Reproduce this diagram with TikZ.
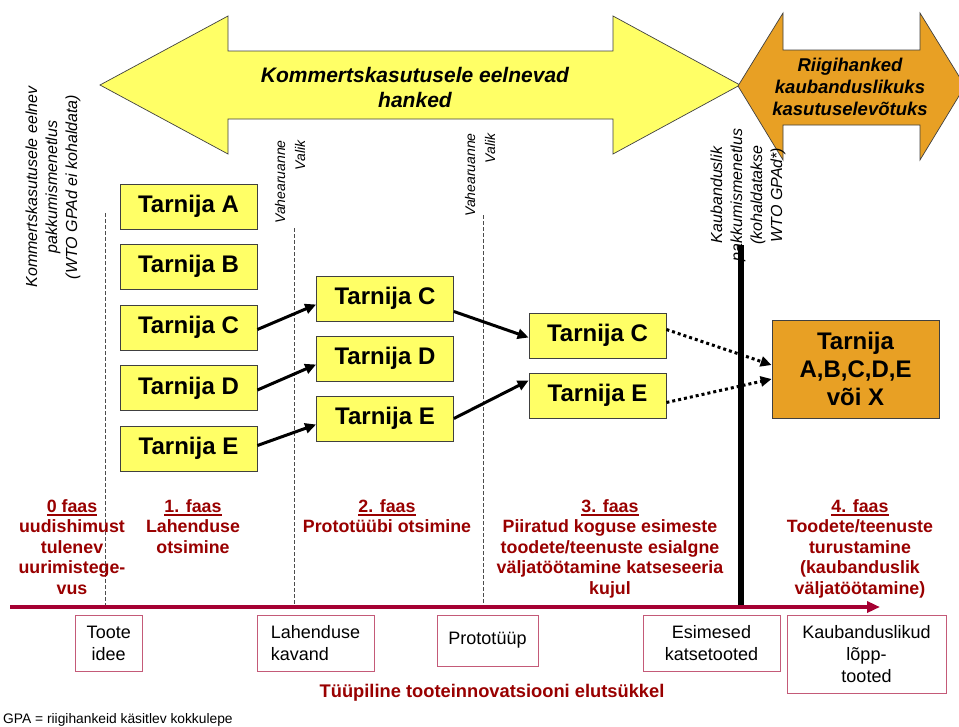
\documentclass[tikz,border=0pt]{standalone}
\usepackage{fontspec}
\setmainfont{Liberation Sans}
\usetikzlibrary{arrows.meta}
\definecolor{yel}{RGB}{255,255,102}
\definecolor{org}{RGB}{232,160,36}
\definecolor{phred}{RGB}{153,0,0}
\definecolor{tline}{RGB}{165,0,50}
\definecolor{bbox}{RGB}{196,90,120}
\newcommand\fs[2]{\fontsize{#1}{#2}\selectfont}
\newcommand\phaseul[1]{\leavevmode\setbox0=\hbox{#1}\rlap{\vrule width \wd0 height -2pt depth 4pt}\box0}
\begin{document}
\begin{tikzpicture}[x=1pt,y=-1pt,
  tbox/.style={draw=black!75, line width=0.8pt, fill=yel, minimum width=137pt, minimum height=45pt, inner sep=0pt, font=\bfseries\fs{24}{28}},
  vtext/.style={rotate=90, font=\itshape\fs{16}{20}, align=center, inner sep=0pt},
  vsmall/.style={rotate=90, font=\itshape\fs{14}{20}, align=right, inner sep=0pt, anchor=east},
  phase/.style={text=phred, font=\bfseries\fs{17.8}{20.5}, align=center, inner sep=0pt, anchor=north},
  lbox/.style={draw=bbox, line width=1pt, fill=white, inner sep=0pt, font=\fs{18}{22}, align=center},
  conn/.style={line width=3pt, -{Triangle[length=11pt,width=10pt]}},
  dconn/.style={line width=3pt, dash pattern=on 3pt off 3pt, -{Triangle[length=11pt,width=10pt]}},
  sepline/.style={line width=0.8pt, black!70, dash pattern=on 3.5pt off 2.5pt},
  bigarrow/.style={draw=black!75, line width=0.7pt}
]
\useasboundingbox (0,0) rectangle (959,726);
\clip (0,0) rectangle (959,726);
\fill[white] (0,0) rectangle (959,726);

% big arrows
\draw[bigarrow, fill=yel] (100,85) -- (228,16) -- (228,51) -- (613,51) -- (613,16) -- (740,85)
  -- (613,154) -- (613,119) -- (228,119) -- (228,154) -- cycle;
\node[font=\bfseries\itshape\fs{21}{25}, align=center] (ytxt) at (415,87.5) {Kommertskasutusele eelnevad\\hanked};
\draw[bigarrow, fill=org] (738,86) -- (783,13) -- (783,50) -- (920,50) -- (920,13) -- (965,86)
  -- (920,160) -- (920,125) -- (783,125) -- (783,160) -- cycle;
\node[font=\bfseries\itshape\fs{18.5}{22}, align=center] (otxt) at (850,87) {Riigihanked\\kaubanduslikuks\\kasutuselevõtuks};

% separators
\coordinate (s1t) at (105,213); \coordinate (s1b) at (105,605);
\coordinate (s2t) at (294,228); \coordinate (s2b) at (294,605);
\coordinate (s3t) at (483,215); \coordinate (s3b) at (483,605);
\draw[sepline] (s1t) -- (s1b);
\draw[sepline] (s2t) -- (s2b);
\draw[sepline] (s3t) -- (s3b);

% vertical texts
\node[vtext] (v0) at (53,187) {Kommertskasutusele eelnev\\pakkumismenetlus\\(WTO GPAd ei kohaldata)};
\node[vsmall] (v1) at (290,140) {Vahearuanne\\Valik};
\node[vsmall] (v2) at (480,133) {Vahearuanne\\Valik};
\node[vtext] (v3) at (748,195) {Kaubanduslik\\pakkumismenetlus\\(kohaldatakse\\WTO GPAd*)};

% black line
\coordinate (blt) at (741,245); \coordinate (blb) at (741,607);
\draw[line width=6pt] (blt) -- (blb);

% suppliers
\node[tbox] (a1) at (188.5,206.5) {Tarnija A};
\node[tbox] (b1) at (188.5,266.5) {Tarnija B};
\node[tbox] (c1) at (188.5,327.5) {Tarnija C};
\node[tbox] (d1) at (188.5,388) {Tarnija D};
\node[tbox] (e1) at (188.5,448.5) {Tarnija E};
\node[tbox] (c2) at (385,298.5) {Tarnija C};
\node[tbox] (d2) at (385,358.5) {Tarnija D};
\node[tbox] (e2) at (385,418.5) {Tarnija E};
\node[tbox] (c3) at (597.5,335.5) {Tarnija C};
\node[tbox] (e3) at (597.5,395.5) {Tarnija E};
\node[draw=black!75, line width=0.8pt, fill=org, minimum width=167pt, minimum height=98pt, inner sep=0pt,
  font=\bfseries\fs{24}{28}, align=center] (fin) at (855.5,369) {Tarnija\\A,B,C,D,E\\või X};

% connectors
\draw[conn] ([yshift=-2pt]c1.east) -- ([yshift=-6pt]c2.west);
\draw[conn] ([yshift=-2pt]d1.east) -- ([yshift=-6pt]d2.west);
\draw[conn] ([yshift=3pt]e1.east) -- ([yshift=-6pt]e2.west);
\draw[conn] ([yshift=-13pt]c2.east) -- ([yshift=-2pt]c3.west);
\draw[conn] (e2.east) -- ([yshift=15pt]e3.west);
\draw[dconn] ([yshift=6pt]c3.east) -- ([yshift=4pt]fin.west);
\draw[dconn] ([yshift=-7pt]e3.east) -- ([yshift=-10pt]fin.west);

% phases
\node[phase] (p0) at (72,499) {\phaseul{0 faas}\\uudishimust\\tulenev\\uurimistege-\\vus};
\node[phase] (p1) at (193,499) {\phaseul{1. faas}\\Lahenduse\\otsimine};
\node[phase] (p2) at (387,499) {\phaseul{2. faas}\\Prototüübi otsimine};
\node[phase] (p3) at (610,499) {\phaseul{3. faas}\\Piiratud koguse esimeste\\toodete/teenuste esialgne\\väljatöötamine katseseeria\\kujul};
\node[phase] (p4) at (860,499) {\phaseul{4. faas}\\Toodete/teenuste\\turustamine\\(kaubanduslik\\väljatöötamine)};

% timeline
\coordinate (tl0) at (10,607); \coordinate (tl1) at (880,607);
\draw[tline, line width=4pt, -{Triangle[length=13pt,width=11pt]}] (tl0) -- (tl1);

% lifecycle boxes
\node[lbox, minimum width=67.5pt, minimum height=56pt] (l1) at (108.75,643) {Toote\\idee};
\node[lbox, minimum width=117pt, minimum height=56pt, align=left] (l2) at (315.5,643) {Lahenduse\\kavand};
\node[lbox, minimum width=101pt, minimum height=51pt] (l3) at (487.5,640.5) {Prototüüp};
\node[lbox, minimum width=137pt, minimum height=56pt] (l4) at (711.5,643) {Esimesed\\katsetooted};
\node[lbox, minimum width=159pt, minimum height=78pt] (l5) at (866.5,654) {Kaubanduslikud\\lõpp-\\tooted};

\node[text=phred, font=\bfseries\fs{18.3}{21}, inner sep=0pt] (title) at (492,693) {Tüüpiline tooteinnovatsiooni elutsükkel};
\node[anchor=west, font=\fs{13.8}{15}, inner sep=0pt] (fn) at (3,719.5) {GPA = riigihankeid käsitlev kokkulepe};
\end{tikzpicture}
\end{document}
